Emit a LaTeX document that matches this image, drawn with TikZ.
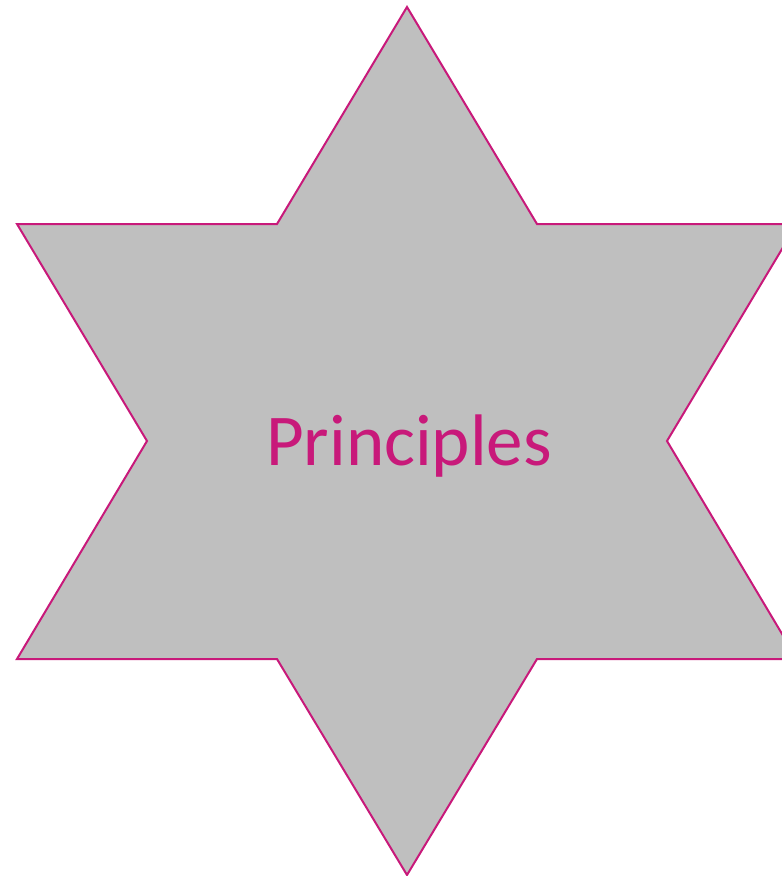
\documentclass[tikz,border=0pt]{standalone}
\usepackage{fontspec}
\setmainfont{Carlito}
\definecolor{starline}{HTML}{C8197A}
\definecolor{starfill}{HTML}{BFBFBF}
\tikzset{
  starshape/.style={draw=starline, fill=starfill, line width=2pt, line join=miter},
  startext/.style={text=starline, font=\fontsize{73}{80}\selectfont, inner sep=0pt, anchor=base}
}
\begin{document}
\begin{tikzpicture}[x=1pt,y=-1pt]
\useasboundingbox (0,0) rectangle (782,876);
\draw[starshape] (407,7) -- (537,224) -- (797,224) -- (667,441) -- (797,659) -- (537,659)
  -- (407,875) -- (277,659) -- (17,659) -- (147,441) -- (17,224) -- (277,224) -- cycle;
\node[startext] (label) at (409,465) {Principles};
\end{tikzpicture}
\end{document}
